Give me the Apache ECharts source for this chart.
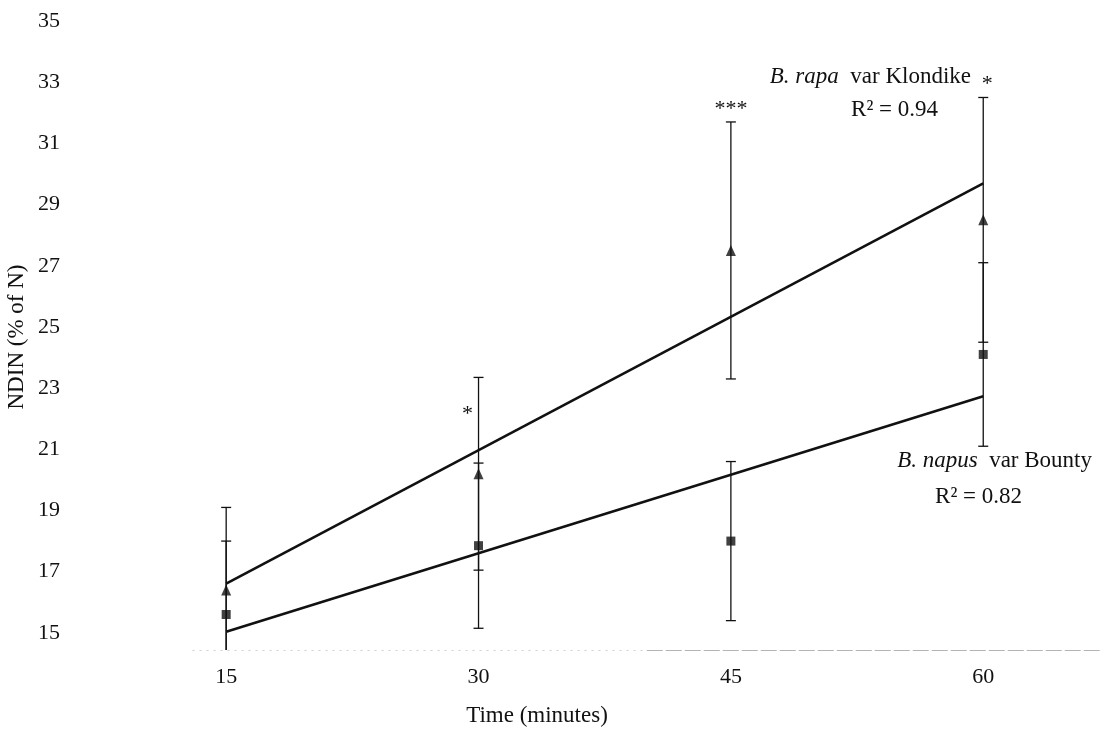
<!DOCTYPE html>
<html>
<head>
<meta charset="utf-8">
<script src="https://cdn.jsdelivr.net/npm/echarts@6/dist/echarts.min.js"></script>
<style>
  html, body { margin: 0; padding: 0; background: #fff; }
  #chart { width: 1103px; height: 738px; }
</style>
</head>
<body>
<div id="chart"></div>
<script>
// Sampling times (minutes)
const times = [15, 30, 45, 60];
// B. rapa var Klondike: mean NDIN and error
const rapaMean = [16.4, 20.2, 27.5, 28.5];
const rapaErr = [2.7, 3.15, 4.2, 4.0];
// B. napus var Bounty: mean NDIN and error
const napusMean = [15.6, 17.85, 18.0, 24.1];
const napusErr = [2.4, 2.7, 2.6, 3.0];
// Significance marks for the difference at each time
const significance = ['', '*', '***', '*'];
// Tick labels
const xTicks = [15, 30, 45, 60];
const yTicks = [15, 17, 19, 21, 23, 25, 27, 29, 31, 33, 35];
const rapaR2 = '0.94';
const napusR2 = '0.82';

const FONT = '"Liberation Serif", "Times New Roman", serif';
const INK = '#111';
const Y_MIN = 14.44;

// Ordinary least-squares trend line through the means
function trend(xs, ys) {
  const n = xs.length;
  const mx = xs.reduce((a, b) => a + b, 0) / n;
  const my = ys.reduce((a, b) => a + b, 0) / n;
  let sxy = 0, sxx = 0;
  for (let i = 0; i < n; i++) {
    sxy += (xs[i] - mx) * (ys[i] - my);
    sxx += (xs[i] - mx) * (xs[i] - mx);
  }
  const b = sxy / sxx, a = my - b * mx;
  const x0 = xs[0], x1 = xs[n - 1];
  return [[x0, a + b * x0], [x1, a + b * x1]];
}

// Pixel offsets of the significance marks from the top of the B. rapa bar
const starOffsets = [[0, -12], [-11, 37], [0, -13], [4, -13]];

function errorBars(withStars) {
  return function (params, api) {
    const i = params.dataIndex;
    const x = api.value(0), m = api.value(1), e = api.value(2);
    const top = api.coord([x, m + e]);
    const bot = api.coord([x, m - e]);
    const cap = 5;
    const style = { stroke: INK, lineWidth: 1.3 };
    const children = [
      { type: 'line', shape: { x1: top[0], y1: top[1], x2: bot[0], y2: bot[1] }, style },
      { type: 'line', shape: { x1: top[0] - cap, y1: top[1], x2: top[0] + cap, y2: top[1] }, style },
      { type: 'line', shape: { x1: bot[0] - cap, y1: bot[1], x2: bot[0] + cap, y2: bot[1] }, style }
    ];
    if (withStars && significance[i]) {
      const off = starOffsets[i];
      children.push({
        type: 'text',
        x: top[0] + off[0], y: top[1] + off[1],
        style: { text: significance[i], fill: INK, font: '22px ' + FONT, align: 'center', verticalAlign: 'middle' }
      });
    }
    return { type: 'group', children };
  };
}

const rapaData = times.map((t, i) => [t, rapaMean[i], rapaErr[i]]);
const napusData = times.map((t, i) => [t, napusMean[i], napusErr[i]]);

const chart = echarts.init(document.getElementById('chart'), null, { renderer: 'canvas' });

const italicRich = { i: { fontStyle: 'italic', fontSize: 23, fontFamily: FONT, fill: INK } };

chart.setOption({
  backgroundColor: '#fff',
  animation: false,
  textStyle: { fontFamily: FONT, color: INK },
  grid: { left: 100, right: 2, top: 21, bottom: 88, outerBoundsMode: 'none', containLabel: false },
  xAxis: {
    type: 'value',
    min: 7.5, max: 67,
    splitLine: { show: false },
    axisTick: { show: false },
    axisLine: { show: false },
    axisLabel: {
      customValues: xTicks,
      fontSize: 22, fontFamily: FONT, color: INK, margin: 16
    }
  },
  yAxis: {
    type: 'value',
    min: Y_MIN, max: 35,
    splitLine: { show: false },
    axisTick: { show: false },
    axisLine: { show: false },
    axisLabel: {
      customValues: yTicks,
      fontSize: 22, fontFamily: FONT, color: INK, margin: 40
    }
  },
  series: [
    {
      name: 'rapa error', type: 'custom', clip: true, z: 2,
      renderItem: errorBars(true),
      encode: { x: 0, y: 1 },
      data: rapaData
    },
    {
      name: 'napus error', type: 'custom', clip: true, z: 2,
      renderItem: errorBars(false),
      encode: { x: 0, y: 1 },
      data: napusData
    },
    {
      name: 'rapa trend', type: 'line', showSymbol: false, z: 3,
      lineStyle: { color: INK, width: 2.6 },
      data: trend(times, rapaMean),
      // horizontal axis baseline
      markLine: {
        silent: true, symbol: 'none', label: { show: false },
        data: [
          [{ coord: [13, Y_MIN], lineStyle: { color: '#d0d0d0', width: 1, type: [2, 5] } }, { coord: [40, Y_MIN] }],
          [{ coord: [40, Y_MIN], lineStyle: { color: '#b4b4b4', width: 1, type: [16, 3] } }, { coord: [67, Y_MIN] }]
        ]
      }
    },
    {
      name: 'napus trend', type: 'line', showSymbol: false, z: 3,
      lineStyle: { color: INK, width: 2.6 },
      data: trend(times, napusMean)
    },
    {
      name: 'B. rapa', type: 'scatter', symbol: 'triangle', symbolSize: [10, 11], z: 4,
      itemStyle: { color: INK },
      data: times.map((t, i) => [t, rapaMean[i]])
    },
    {
      name: 'B. napus', type: 'scatter', symbol: 'rect', symbolSize: 9, z: 4,
      itemStyle: { color: INK },
      data: times.map((t, i) => [t, napusMean[i]])
    }
  ],
  graphic: [
    {
      type: 'text', x: 17, y: 337, rotation: Math.PI / 2,
      style: { text: 'NDIN (% of N)', font: '23px ' + FONT, fill: INK, align: 'center', verticalAlign: 'middle' }
    },
    {
      type: 'text', x: 971, y: 77,
      style: {
        text: '{i|B. rapa}  var Klondike',
        font: '23px ' + FONT, fill: INK, align: 'right', verticalAlign: 'middle',
        rich: italicRich
      }
    },
    {
      type: 'text', x: 938, y: 110,
      style: { text: 'R\u00B2 = ' + rapaR2, font: '23px ' + FONT, fill: INK, align: 'right', verticalAlign: 'middle' }
    },
    {
      type: 'text', x: 1092, y: 461,
      style: {
        text: '{i|B. napus}  var Bounty',
        font: '23px ' + FONT, fill: INK, align: 'right', verticalAlign: 'middle',
        rich: italicRich
      }
    },
    {
      type: 'text', x: 1022, y: 497,
      style: { text: 'R\u00B2 = ' + napusR2, font: '23px ' + FONT, fill: INK, align: 'right', verticalAlign: 'middle' }
    },
    {
      type: 'text', x: 537, y: 716,
      style: { text: 'Time (minutes)', font: '23px ' + FONT, fill: INK, align: 'center', verticalAlign: 'middle' }
    }
  ]
});
</script>
</body>
</html>
